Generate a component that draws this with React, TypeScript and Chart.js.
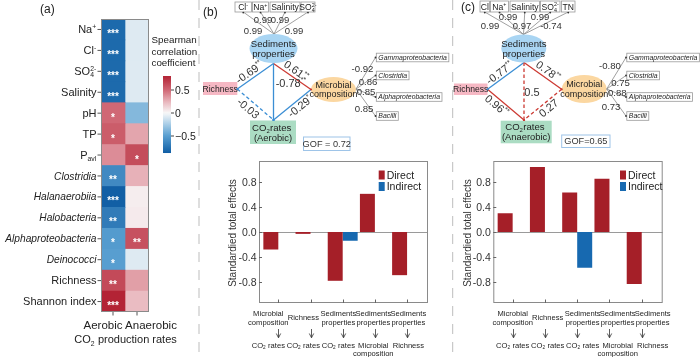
import React, { useEffect, useRef } from "react";
import { Chart, registerables } from "chart.js";

Chart.register(...registerables);

const FONT = "'Liberation Sans', Arial, Helvetica, sans-serif";
const INK = "#222";

// ---------------- Panel (a): Spearman heatmap ----------------
const heatRows = ["Na^{+}", "Cl^{-}", "SO_{4}^{2-}", "Salinity", "pH", "TP", "P_{avl}", "Clostridia", "Halanaerobiia", "Halobacteria", "Alphaproteobacteria", "Deinococci", "Richness", "Shannon index"];
const heatRowItalic = [false, false, false, false, false, false, false, true, true, true, true, true, false, false];
const heatColumns = ["Aerobic", "Anaerobic"];
const heatAxisTitle = "CO_{2} production rates";
const aerobicRho = [-0.8, -0.8, -0.8, -0.8, 0.5, 0.55, 0.38, -0.62, -0.86, -0.7, -0.52, -0.5, 0.63, 0.8];
const anaerobicRho = [-0.08, -0.08, -0.08, -0.08, -0.36, 0.3, 0.62, 0.26, 0.04, 0.05, 0.6, -0.08, 0.32, 0.22];
const aerobicSig = ["***", "***", "***", "***", "*", "*", "", "**", "***", "**", "*", "*", "**", "***"];
const anaerobicSig = ["", "", "", "", "", "", "*", "", "", "", "**", "", "", ""];
const colorbarTicks = [0.5, 0, -0.5];
const colorbarTitle = ["Spearman", "correlation", "coefficient"];

// ---------------- Panels (b), (c): standardized total effects ----------------
const effectFrom = [["Microbial", "composition"], ["Richness"], ["Sediments", "properties"], ["Sediments", "properties"], ["Sediments", "properties"]];
const effectTo = [["CO_{2} rates"], ["CO_{2} rates"], ["CO_{2} rates"], ["Microbial", "composition"], ["Richness"]];
const effectIndex = [0, 1, 2, 3, 4];
const effectTicks = [-0.8, -0.4, 0, 0.4, 0.8];
const effectSeries = ["Direct", "Indirect"];
const aerobicDirect = [-0.28, -0.03, -0.78, 0.61, -0.69];
const aerobicIndirect = [null, null, -0.14, null, null];
const anaerobicDirect = [0.3, 1.04, 0.63, 0.85, -0.83];
const anaerobicIndirect = [null, null, -0.57, null, null];
const effectAxisTitle = "Standardied total effects";

// ---------------- Path diagrams ----------------
const aerobicIndicators = ["Cl^{-}", "Na^{+}", "Salinity", "SO_{4}^{2-}"];
const aerobicIndicatorLoadings = ["0.99", "0.99", "0.99", "0.99"];
const anaerobicIndicators = ["Cl", "Na^{+}", "Salinity", "SO_{4}^{2-}", "TN"];
const anaerobicIndicatorLoadings = ["0.99", "0.99", "0.97", "0.99", "-0.74"];
const taxa = ["Gammaproteobacteria", "Clostridia", "Alphaproteobacteria", "Bacilli"];
const aerobicTaxaLoadings = ["-0.92", "0.86", "0.85", "0.85"];
const anaerobicTaxaLoadings = ["-0.80", "0.75", "0.88", "0.73"];
// order: Sed->Richness, Sed->Microbial, Sed->CO2, Richness->CO2, Microbial->CO2
const aerobicPaths = ["-0.69", "0.61", "-0.78", "-0.03", "-0.29"];
const aerobicPathSig = ["**", "**", "**", "", "*"];
const anaerobicPaths = ["-0.77", "0.78", "0.5", "0.96", "0.27"];
const anaerobicPathSig = ["**", "**", "", "**", ""];
const aerobicGof = "GOF = 0.72";
const anaerobicGof = "GOF=0.65";

const DIRECT = "#a51f28";
const INDIRECT = "#1769b0";
const PATH_BLUE = "#3b8ed4";
const PATH_RED = "#cc3a33";

// ---------- colour scale ----------
const RHO_STOPS: [number, number[]][] = [
  [-0.9, [10, 88, 160]],
  [-0.5, [88, 158, 208]],
  [-0.25, [166, 204, 230]],
  [0, [248, 248, 248]],
  [0.25, [232, 180, 187]],
  [0.5, [208, 104, 117]],
  [0.85, [174, 24, 42]],
];
function rgb(c: number[]) {
  return `rgb(${Math.round(c[0])},${Math.round(c[1])},${Math.round(c[2])})`;
}
function rhoColor(v: number) {
  if (v <= RHO_STOPS[0][0]) return rgb(RHO_STOPS[0][1]);
  for (let i = 1; i < RHO_STOPS.length; i++) {
    const [v1, c1] = RHO_STOPS[i];
    if (v <= v1) {
      const [v0, c0] = RHO_STOPS[i - 1];
      const t = (v - v0) / (v1 - v0);
      return rgb(c0.map((c, k) => c + (c1[k] - c) * t));
    }
  }
  return rgb(RHO_STOPS[RHO_STOPS.length - 1][1]);
}

// ---------- rich text (sub/superscripts) ----------
type Seg = { t: string; k: "n" | "sub" | "sup" };
function parseRich(s: string): Seg[] {
  const out: Seg[] = [];
  const re = /(\^\{[^}]*\}|_\{[^}]*\})/g;
  let last = 0;
  let m: RegExpExecArray | null;
  while ((m = re.exec(s))) {
    if (m.index > last) out.push({ t: s.slice(last, m.index), k: "n" });
    out.push({ t: m[0].slice(2, -1), k: m[0][0] === "^" ? "sup" : "sub" });
    last = m.index + m[0].length;
  }
  if (last < s.length) out.push({ t: s.slice(last), k: "n" });
  return out;
}
let mctx: CanvasRenderingContext2D | null = null;
function fontStr(size: number, italic: boolean) {
  return `${italic ? "italic " : ""}${size}px ${FONT}`;
}
function measure(t: string, size: number, italic: boolean) {
  if (!mctx) mctx = document.createElement("canvas").getContext("2d");
  mctx!.font = fontStr(size, italic);
  return mctx!.measureText(t).width;
}
function layoutRich(s: string, size: number, italic: boolean) {
  const segs = parseRich(s);
  const small = size * 0.62;
  const items: { t: string; k: string; dx: number; size: number }[] = [];
  let cx = 0;
  let i = 0;
  while (i < segs.length) {
    const sg = segs[i];
    if (sg.k === "n") {
      items.push({ t: sg.t, k: "n", dx: cx, size });
      cx += measure(sg.t, size, italic);
      i++;
    } else {
      let w = measure(sg.t, small, italic);
      items.push({ t: sg.t, k: sg.k, dx: cx, size: small });
      if (i + 1 < segs.length && segs[i + 1].k !== "n" && segs[i + 1].k !== sg.k) {
        w = Math.max(w, measure(segs[i + 1].t, small, italic));
        items.push({ t: segs[i + 1].t, k: segs[i + 1].k, dx: cx, size: small });
        i += 2;
      } else i++;
      cx += w + 0.3;
    }
  }
  return { items, width: cx };
}
function drawRich(ctx: CanvasRenderingContext2D, s: string, x: number, cy: number, size: number, align: string, italic = false, color = INK) {
  const { items, width } = layoutRich(s, size, italic);
  const start = align === "right" ? x - width : align === "center" ? x - width / 2 : x;
  const base = cy + size * 0.35;
  ctx.textAlign = "left";
  ctx.textBaseline = "alphabetic";
  ctx.fillStyle = color;
  for (const it of items) {
    ctx.font = fontStr(it.size, italic);
    const dy = it.k === "sup" ? -size * 0.4 : it.k === "sub" ? size * 0.2 : 0;
    ctx.fillText(it.t, start + it.dx, base + dy);
  }
}
function richSvg(key: string, s: string, x: number, cy: number, size: number, anchor: string, italic = false, fill = INK) {
  const { items, width } = layoutRich(s, size, italic);
  const start = anchor === "end" ? x - width : anchor === "middle" ? x - width / 2 : x;
  const base = cy + size * 0.35;
  return items.map((it, j) => {
    const dy = it.k === "sup" ? -size * 0.4 : it.k === "sub" ? size * 0.2 : 0;
    return (
      <text key={key + "_" + j} x={start + it.dx} y={base + dy} fontSize={it.size} fontStyle={italic ? "italic" : "normal"} fill={fill} fontFamily={FONT}>
        {it.t}
      </text>
    );
  });
}

// ---------- chart (a) ----------
const heatPlugin = {
  id: "heatDecor",
  afterDatasetsDraw(chart: any) {
    const { ctx, chartArea: a, scales } = chart;
    const x = scales.x;
    const y = scales.y;
    ctx.save();
    ctx.fillStyle = "#fff";
    ctx.font = `bold 10px ${FONT}`;
    ctx.textAlign = "center";
    ctx.textBaseline = "alphabetic";
    heatRows.forEach((_, i) => {
      const py = y.getPixelForValue(i);
      if (aerobicSig[i]) ctx.fillText(aerobicSig[i], x.getPixelForValue(0.5), py + 7.5);
      if (anaerobicSig[i]) ctx.fillText(anaerobicSig[i], x.getPixelForValue(1.5), py + 7.5);
    });
    ctx.strokeStyle = "#8a8a8a";
    ctx.lineWidth = 1;
    ctx.strokeRect(a.left + 0.5, a.top + 0.5, a.right - a.left - 1, a.bottom - a.top - 1);
    ctx.strokeStyle = "#555";
    heatRows.forEach((lab, i) => {
      const py = y.getPixelForValue(i);
      ctx.beginPath();
      ctx.moveTo(a.left - 3.5, py);
      ctx.lineTo(a.left, py);
      ctx.stroke();
      drawRich(ctx, lab, a.left - 4.5, py, heatRowItalic[i] ? 10.2 : 11, "right", heatRowItalic[i]);
    });
    heatColumns.forEach((c, j) => {
      const px = x.getPixelForValue(j + 0.5);
      ctx.beginPath();
      ctx.moveTo(px, a.bottom);
      ctx.lineTo(px, a.bottom + 3.5);
      ctx.stroke();
    });
    drawRich(ctx, heatColumns[0], 103, 324.5, 11.5, "center");
    drawRich(ctx, heatColumns[1], 151, 324.5, 11.5, "center");
    drawRich(ctx, heatAxisTitle, 125.5, 339.5, 11, "center");
    const cbL = 163, cbR = 171, vTop = 0.804, vBot = -0.87;
    const vy = (v: number) => 113 - v * 46;
    const g = ctx.createLinearGradient(0, vy(vTop), 0, vy(vBot));
    for (let k = 0; k <= 40; k++) {
      const v = vTop + (vBot - vTop) * (k / 40);
      g.addColorStop(k / 40, rhoColor(v));
    }
    ctx.fillStyle = g;
    ctx.fillRect(cbL, vy(vTop), cbR - cbL, vy(vBot) - vy(vTop));
    ctx.strokeStyle = "#444";
    colorbarTicks.forEach((t) => {
      const py = vy(t);
      ctx.beginPath();
      ctx.moveTo(cbR, py);
      ctx.lineTo(cbR + 3, py);
      ctx.stroke();
      drawRich(ctx, t === 0 ? "0" : t.toFixed(1).replace("-", "\u2212"), cbR + 4, py, 10.5, "left");
    });
    colorbarTitle.forEach((t, k) => drawRich(ctx, t, 151.5, 40 + k * 11.3, 9.8, "left"));
    drawRich(ctx, "(a)", 40, 8.5, 12, "left");
    ctx.restore();
  },
};

function makeHeat(canvas: HTMLCanvasElement) {
  return new Chart(canvas, {
    type: "bar",
    data: {
      labels: heatRows,
      datasets: [
        { label: heatColumns[0], data: aerobicRho.map(() => [0, 1]), backgroundColor: aerobicRho.map(rhoColor), grouped: false, barPercentage: 1, categoryPercentage: 1, borderWidth: 0 } as any,
        { label: heatColumns[1], data: anaerobicRho.map(() => [1, 2]), backgroundColor: anaerobicRho.map(rhoColor), grouped: false, barPercentage: 1, categoryPercentage: 1, borderWidth: 0 } as any,
      ],
    },
    options: {
      indexAxis: "y",
      animation: false,
      responsive: false,
      devicePixelRatio: 1,
      layout: { padding: { left: 101, right: 51, top: 19, bottom: 45 } },
      scales: {
        x: { type: "linear", min: 0, max: 2, display: false },
        y: { type: "category", display: false },
      },
      plugins: { legend: { display: false }, tooltip: { enabled: false } },
    } as any,
    plugins: [heatPlugin],
  });
}

// ---------- charts (b), (c) ----------
function effectsPlugin(oy: number, ox: number, labelOffset: number, titleX: number, legendX: number) {
  return {
    id: "effectsDecor",
    beforeDatasetsDraw(chart: any) {
      const { ctx, chartArea: a, scales } = chart;
      const py = scales.y.getPixelForValue(0);
      ctx.save();
      ctx.strokeStyle = "#9a9a9a";
      ctx.lineWidth = 1;
      ctx.beginPath();
      ctx.moveTo(a.left, Math.round(py) + 0.5);
      ctx.lineTo(a.right, Math.round(py) + 0.5);
      ctx.stroke();
      ctx.restore();
    },
    afterDraw(chart: any) {
      const { ctx, chartArea: a, scales } = chart;
      const x = scales.x;
      const y = scales.y;
      ctx.save();
      ctx.strokeStyle = "#8a8a8a";
      ctx.lineWidth = 1;
      ctx.strokeRect(a.left + 0.5, a.top + 0.5, a.right - a.left - 1, a.bottom - a.top - 1);
      ctx.strokeStyle = "#666";
      effectTicks.forEach((t) => {
        const py = Math.round(y.getPixelForValue(t)) + 0.5;
        ctx.beginPath();
        ctx.moveTo(a.left, py);
        ctx.lineTo(a.left + 3, py);
        ctx.stroke();
        drawRich(ctx, t.toFixed(1), a.left - 2.5, py, 10.5, "right", false, "#333");
      });
      ctx.save();
      ctx.translate(titleX - ox, 233 - oy);
      ctx.rotate(-Math.PI / 2);
      drawRich(ctx, effectAxisTitle, 0, 0, 10, "center", false, "#333");
      ctx.restore();
      effectFrom.forEach((lines, i) => {
        const tx = Math.round(x.getPixelForValue(effectIndex[i])) + 0.5;
        ctx.strokeStyle = "#666";
        ctx.lineWidth = 1;
        ctx.beginPath();
        ctx.moveTo(tx, a.bottom);
        ctx.lineTo(tx, a.bottom - 3.5);
        ctx.stroke();
        const lx = x.getPixelForValue(0) + labelOffset + i * 35;
        const fy = lines.length === 1 ? [317] : [313.3, 322.5];
        lines.forEach((l, k) => drawRich(ctx, l, lx, fy[k] - oy, 7.6, "center", false, "#222"));
        ctx.strokeStyle = "#333";
        ctx.lineWidth = 0.8;
        ctx.beginPath();
        ctx.moveTo(tx, 329 - oy);
        ctx.lineTo(tx, 337.5 - oy);
        ctx.moveTo(tx - 2.2, 333.5 - oy);
        ctx.lineTo(tx, 337.8 - oy);
        ctx.lineTo(tx + 2.2, 333.5 - oy);
        ctx.stroke();
        effectTo[i].forEach((l, k) => drawRich(ctx, l, lx, 345 - oy + k * 8.3, 7.6, "center", false, "#222"));
      });
      [DIRECT, INDIRECT].forEach((c, k) => {
        const top = 170.5 + k * 11.5 - oy;
        ctx.fillStyle = c;
        ctx.fillRect(legendX - ox, top, 6, 9);
        drawRich(ctx, effectSeries[k], legendX - ox + 8, top + 4.7, 10.5, "left", false, "#222");
      });
      ctx.restore();
    },
  };
}

function makeEffects(canvas: HTMLCanvasElement, direct: (number | null)[], indirect: (number | null)[], pad: any, ox: number, labelOffset: number, titleX: number, legendX: number) {
  const oy = 150;
  return new Chart(canvas, {
    type: "bar",
    data: {
      datasets: [
        { label: effectSeries[0], data: direct.map((v, i) => ({ x: effectIndex[i], y: v })), backgroundColor: DIRECT, categoryPercentage: 0.93, barPercentage: 1, borderWidth: 0 } as any,
        { label: effectSeries[1], data: indirect.map((v, i) => ({ x: effectIndex[i], y: v })), backgroundColor: INDIRECT, categoryPercentage: 0.93, barPercentage: 1, borderWidth: 0 } as any,
      ],
    },
    options: {
      animation: false,
      responsive: false,
      devicePixelRatio: 1,
      layout: { padding: pad },
      scales: {
        x: {
          type: "linear",
          min: -0.6,
          max: 4.65,
          offset: false,
          grid: { offset: false },
          display: false,
          afterBuildTicks: (s: any) => {
            s.ticks = effectIndex.map((v) => ({ value: v }));
          },
        },
        y: { type: "linear", min: -1.135, max: 1.135, display: false },
      },
      plugins: { legend: { display: false }, tooltip: { enabled: false } },
    } as any,
    plugins: [effectsPlugin(oy, ox, labelOffset, titleX, legendX)],
  });
}

// ---------- path diagrams (SVG) ----------
const layoutB = {
  tag: "(b)", tagX: 203, tagY: 12,
  topBoxes: [[235, 251.5], [252.5, 268.5], [270, 300], [301, 315]], topY0: 2, topY1: 12,
  conv: [274, 34],
  loadPos: [[253, 31], [263, 19.5], [280, 19.5], [294, 31]],
  sed: [273.5, 48.5, 24, 14.5],
  rich: [203, 82, 237.3, 95],
  micro: [333.5, 89.5, 22.5, 12.5],
  co2: [250, 120.5, 296, 144],
  co2Label: "(Aerobic)",
  nodes: { sed: [273.5, 63.5], rich: [237.3, 89], micro: [311, 89.5], co2: [273.5, 120] },
  pathLabelPos: [[249.3, 72.2], [296.3, 70.6], [291, 82.7], [248.3, 108.3], [300, 106.3]],
  taxaX0: 375.5, taxaY: [57.5, 75.5, 97, 116], taxaFrom: [356, 89],
  taxaLoadPos: [[362.5, 68.3], [368, 82], [366, 92], [364, 108.3]],
  gof: [303.5, 137, 350, 150.5],
};
const layoutC = {
  tag: "(c)", tagX: 461, tagY: 7,
  topBoxes: [[480, 489.5], [490.5, 508.5], [510, 539.5], [540.5, 560], [561.5, 575]], topY0: 1, topY1: 12,
  conv: [523.5, 34.5],
  loadPos: [[490, 26], [508, 17], [522, 26], [540, 17], [551, 26]],
  sed: [523.8, 48.5, 22.5, 14],
  rich: [454, 83.5, 487.5, 95],
  micro: [584.2, 89, 22.5, 14],
  co2: [500.7, 120.7, 551.7, 143.3],
  co2Label: "(Anaerobic)",
  nodes: { sed: [524, 62.5], rich: [487.5, 89.3], micro: [561.7, 89.3], co2: [524, 120] },
  pathLabelPos: [[499.6, 72.8], [548.2, 71], [532, 91.7], [496.8, 105.4], [548.6, 108]],
  taxaX0: 626, taxaY: [57.5, 75.5, 97, 116], taxaFrom: [606.7, 89],
  taxaLoadPos: [[610, 65.7], [620.5, 82.7], [617.3, 92.3], [611, 106.7]],
  gof: [561.7, 135, 610, 147.5],
};

function Diagram(props: any) {
  const { L, indicators, indicatorLoadings, taxaLoadings, paths, pathSig, gof, id } = props;
  const els: any[] = [];
  els.push(...richSvg(id + "tag", L.tag, L.tagX, L.tagY, 12, "start"));
  indicators.forEach((name: string, i: number) => {
    const [x0, x1] = L.topBoxes[i];
    const bx = (x0 + x1) / 2;
    els.push(<line key={id + "tl" + i} x1={bx} y1={L.topY1} x2={L.conv[0]} y2={L.conv[1]} stroke="#888" strokeWidth={0.8} />);
  });
  indicators.forEach((name: string, i: number) => {
    const [x0, x1] = L.topBoxes[i];
    const bx = (x0 + x1) / 2;
    els.push(<rect key={id + "tb" + i} x={x0} y={L.topY0} width={x1 - x0} height={L.topY1 - L.topY0} fill="#fff" stroke="#999" strokeWidth={0.8} />);
    els.push(...richSvg(id + "tt" + i, name, bx, (L.topY0 + L.topY1) / 2 + 0.3, 8.6, "middle"));
    els.push(<circle key={id + "td" + i} cx={bx} cy={L.topY1 + 0.6} r={0.9} fill="#333" />);
    els.push(...richSvg(id + "lv" + i, indicatorLoadings[i], L.loadPos[i][0], L.loadPos[i][1], 9.5, "middle", false, "#333"));
  });
  const N = L.nodes;
  const ends = [[N.sed, N.rich], [N.sed, N.micro], [N.sed, N.co2], [N.rich, N.co2], [N.micro, N.co2]];
  ends.forEach(([p, q]: any, i: number) => {
    const neg = parseFloat(paths[i]) < 0;
    const col = neg ? PATH_BLUE : PATH_RED;
    els.push(<line key={id + "p" + i} x1={p[0]} y1={p[1]} x2={q[0]} y2={q[1]} stroke={col} strokeWidth={1.3} strokeDasharray={pathSig[i] ? undefined : "3.5,2.5"} />);
  });
  const [sx, sy, srx, sry] = L.sed;
  els.push(<ellipse key={id + "sed"} cx={sx} cy={sy} rx={srx} ry={sry} fill="#a9d5f3" />);
  els.push(...richSvg(id + "sed1", "Sediments", sx, sy - 4.8, 9.6, "middle"));
  els.push(...richSvg(id + "sed2", "properties", sx, sy + 4.8, 9.6, "middle"));
  const [mx, my, mrx, mry] = L.micro;
  els.push(<ellipse key={id + "mic"} cx={mx} cy={my} rx={mrx} ry={mry} fill="#fbd7a1" />);
  els.push(...richSvg(id + "mic1", "Microbial", mx, my - 4.8, 9, "middle"));
  els.push(...richSvg(id + "mic2", "composition", mx, my + 4.8, 9, "middle"));
  const [rx0, ry0, rx1, ry1] = L.rich;
  els.push(<rect key={id + "rich"} x={rx0} y={ry0} width={rx1 - rx0} height={ry1 - ry0} fill="#f6b8c4" />);
  els.push(...richSvg(id + "richt", "Richness", (rx0 + rx1) / 2, (ry0 + ry1) / 2, 8.6, "middle"));
  const [cx0, cy0, cx1, cy1] = L.co2;
  els.push(<rect key={id + "co2"} x={cx0} y={cy0} width={cx1 - cx0} height={cy1 - cy0} fill="#abdcc3" />);
  els.push(...richSvg(id + "co2a", "CO_{2} rates", (cx0 + cx1) / 2, (cy0 + cy1) / 2 - 5, 9.6, "middle"));
  els.push(...richSvg(id + "co2b", L.co2Label, (cx0 + cx1) / 2, (cy0 + cy1) / 2 + 5, 9.4, "middle"));
  ends.forEach(([p, q]: any, i: number) => {
    const col = parseFloat(paths[i]) < 0 ? PATH_BLUE : PATH_RED;
    els.push(<circle key={id + "pd" + i} cx={q[0]} cy={q[1]} r={1.1} fill={col} />);
  });
  ends.forEach(([p, q]: any, i: number) => {
    const [lx, ly] = L.pathLabelPos[i];
    let ang = (Math.atan2(q[1] - p[1], q[0] - p[0]) * 180) / Math.PI;
    if (ang > 90) ang -= 180;
    if (ang < -90) ang += 180;
    if (Math.abs(Math.abs(ang) - 90) < 5) ang = 0;
    const txt = paths[i] + (pathSig[i] ? `^{${pathSig[i]}}` : "");
    els.push(
      <g key={id + "pl" + i} transform={`rotate(${ang.toFixed(1)} ${lx} ${ly})`}>
        {richSvg(id + "plt" + i, txt, lx, ly, 11, "middle", false, "#333")}
      </g>
    );
  });
  taxa.forEach((t: string, i: number) => {
    const ty = L.taxaY[i];
    els.push(<line key={id + "xl" + i} x1={L.taxaFrom[0]} y1={L.taxaFrom[1]} x2={L.taxaX0} y2={ty} stroke="#888" strokeWidth={0.8} />);
  });
  taxa.forEach((t: string, i: number) => {
    const ty = L.taxaY[i];
    const w = measure(t, 6.9, true) + 4;
    els.push(<rect key={id + "xb" + i} x={L.taxaX0 + 0.8} y={ty - 4.3} width={w} height={8.6} fill="#fff" stroke="#999" strokeWidth={0.8} />);
    els.push(<circle key={id + "xd" + i} cx={L.taxaX0} cy={ty} r={0.9} fill="#333" />);
    els.push(...richSvg(id + "xt" + i, t, L.taxaX0 + 2.8, ty, 6.9, "start", true));
    els.push(...richSvg(id + "xv" + i, taxaLoadings[i], L.taxaLoadPos[i][0], L.taxaLoadPos[i][1], 9.6, "middle", false, "#333"));
  });
  const [g0, g1, g2, g3] = L.gof;
  els.push(<rect key={id + "gof"} x={g0} y={g1} width={g2 - g0} height={g3 - g1} fill="#fff" stroke="#9ec4e8" strokeWidth={1} />);
  els.push(...richSvg(id + "goft", gof, (g0 + g2) / 2, (g1 + g3) / 2, 9.2, "middle", false, "#333"));
  return <g>{els}</g>;
}

export default function App() {
  const aRef = useRef<HTMLCanvasElement>(null);
  const bRef = useRef<HTMLCanvasElement>(null);
  const cRef = useRef<HTMLCanvasElement>(null);
  useEffect(() => {
    const charts = [
      makeHeat(aRef.current!),
      makeEffects(bRef.current!, aerobicDirect, aerobicIndirect, { left: 59, right: 30, top: 11, bottom: 54 }, 200, -10, 232.5, 378.7),
      makeEffects(cRef.current!, anaerobicDirect, anaerobicIndirect, { left: 38.3, right: 37.3, top: 11, bottom: 54 }, 455, 0, 467.5, 620),
    ];
    return () => charts.forEach((c) => c.destroy());
  }, []);
  const abs: any = { position: "absolute", top: 0, left: 0 };
  return (
    <div style={{ position: "fixed", left: 0, top: 0, width: 700, height: 357, background: "#fff", overflow: "hidden", fontFamily: FONT }}>
      <canvas ref={aRef} width={200} height={357} style={{ ...abs, width: 200, height: 357 }} />
      <canvas ref={bRef} width={258} height={207} style={{ ...abs, left: 200, top: 150, width: 258, height: 207 }} />
      <canvas ref={cRef} width={245} height={207} style={{ ...abs, left: 455, top: 150, width: 245, height: 207 }} />
      <svg width={700} height={357} style={{ ...abs, pointerEvents: "none" }}>
        <line x1={199} y1={0} x2={199} y2={357} stroke="#bdbdbd" strokeWidth={1} strokeDasharray="10,8" />
        <line x1={452.7} y1={0} x2={452.7} y2={357} stroke="#bdbdbd" strokeWidth={1} strokeDasharray="10,8" />
        <Diagram id="b" L={layoutB} indicators={aerobicIndicators} indicatorLoadings={aerobicIndicatorLoadings} taxaLoadings={aerobicTaxaLoadings} paths={aerobicPaths} pathSig={aerobicPathSig} gof={aerobicGof} />
        <Diagram id="c" L={layoutC} indicators={anaerobicIndicators} indicatorLoadings={anaerobicIndicatorLoadings} taxaLoadings={anaerobicTaxaLoadings} paths={anaerobicPaths} pathSig={anaerobicPathSig} gof={anaerobicGof} />
      </svg>
    </div>
  );
}
